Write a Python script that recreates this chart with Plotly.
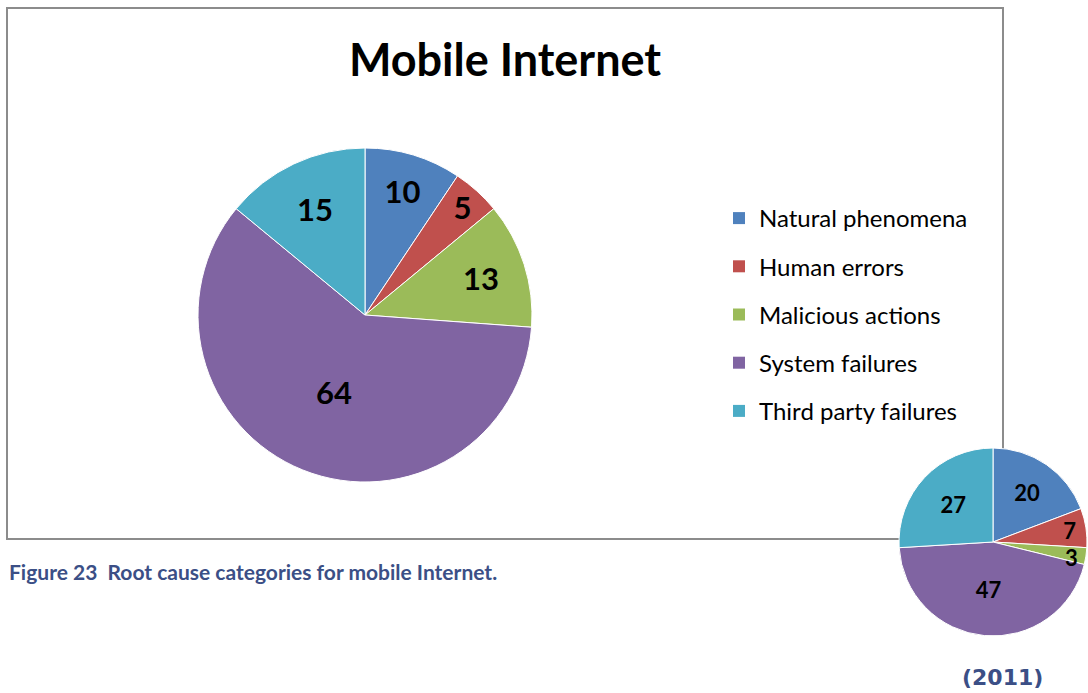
import math
import plotly.graph_objects as go

W, H = 1088, 693

# Root cause categories
categories = ["Natural phenomena", "Human errors", "Malicious actions",
              "System failures", "Third party failures"]
values_main = [10, 5, 13, 64, 15]     # mobile Internet
values_2011 = [20, 7, 3, 47, 27]      # 2011 inset
colors = ["#4F81BD", "#C0504D", "#9BBB59", "#8064A2", "#4BACC6"]

FONT = "Lato"
CAPTION_COLOR = "#3B4F86"


def px_x(x):
    return x / W


def px_y(y):
    return 1 - y / H


main_dom = dict(x=[px_x(198), px_x(532)], y=[px_y(482), px_y(148)])
inset_dom = dict(x=[px_x(899), px_x(1087)], y=[px_y(636), px_y(448)])

fig = go.Figure()

# main pie
fig.add_trace(go.Pie(
    labels=categories, values=values_main,
    marker=dict(colors=colors, line=dict(color="white", width=1)),
    sort=False, direction="clockwise", rotation=0,
    textinfo="value", textposition="inside", insidetextorientation="horizontal",
    textfont=dict(family=FONT, size=31, color="black", weight="bold"),
    domain=main_dom, showlegend=False, hoverinfo="label+value",
))

# 2011 inset pie; the thinnest slice gets its value as a separate label
# so it keeps the same font size as the others
inset_small = [v / sum(values_2011) < 0.05 for v in values_2011]
fig.add_trace(go.Pie(
    labels=categories, values=values_2011,
    marker=dict(colors=colors, line=dict(color="white", width=1)),
    sort=False, direction="clockwise", rotation=0,
    textinfo="value",
    textposition=["none" if s else "inside" for s in inset_small],
    insidetextorientation="horizontal",
    textfont=dict(family=FONT, size=22, color="black", weight="bold"),
    domain=inset_dom, showlegend=False, hoverinfo="label+value",
))

# label placement for thin inset slices: along the slice's mid-angle
cx = (inset_dom["x"][0] + inset_dom["x"][1]) / 2 * W
cy = (1 - (inset_dom["y"][0] + inset_dom["y"][1]) / 2) * H
r = min((inset_dom["x"][1] - inset_dom["x"][0]) * W,
        (inset_dom["y"][1] - inset_dom["y"][0]) * H) / 2
total = sum(values_2011)
slice_labels = []
acc = 0
for v, s in zip(values_2011, inset_small):
    mid = (acc + v / 2) / total * 2 * math.pi
    acc += v
    if s:
        lx = cx + 0.84 * r * math.sin(mid)
        ly = cy - 0.84 * r * math.cos(mid)
        slice_labels.append(dict(
            text=f"<b>{v}</b>", x=px_x(lx), y=px_y(ly), yshift=-4,
            xref="paper", yref="paper", xanchor="center", yanchor="middle",
            showarrow=False, borderpad=0,
            font=dict(family=FONT, size=22, color="black")))

# legend entries, one group each so the gap between rows can be set
for name, col in zip(categories, colors):
    fig.add_trace(go.Scatter(
        x=[None], y=[None], mode="markers", name=name,
        marker=dict(symbol="square", size=14, color=col),
        legendgroup=name, showlegend=True,
    ))

fig.update_layout(
    width=W, height=H,
    margin=dict(l=0, r=0, t=0, b=0),
    paper_bgcolor="white", plot_bgcolor="white",
    xaxis=dict(visible=False), yaxis=dict(visible=False),
    title=dict(text="<b>Mobile Internet</b>", x=px_x(505), y=px_y(60),
               xanchor="center", yanchor="middle",
               font=dict(family=FONT, size=45, color="black")),
    legend=dict(x=px_x(719), y=px_y(196), xanchor="left", yanchor="top",
                font=dict(family=FONT, size=24, color="black"),
                tracegroupgap=14, itemsizing="constant",
                bgcolor="rgba(0,0,0,0)"),
    shapes=[dict(type="rect", xref="paper", yref="paper",
                 x0=px_x(7), x1=px_x(1003), y0=px_y(539), y1=px_y(8),
                 line=dict(color="#8C8C8C", width=2), layer="below")],
    annotations=[
        dict(text="<b>Figure 23  Root cause categories for mobile Internet.</b>",
             x=px_x(7), y=px_y(571), xref="paper", yref="paper",
             xanchor="left", yanchor="middle", showarrow=False,
             font=dict(family=FONT, size=21, color=CAPTION_COLOR)),
        dict(text="<b>(2011)</b>",
             x=px_x(1002), y=px_y(677), xref="paper", yref="paper",
             xanchor="center", yanchor="middle", showarrow=False,
             font=dict(family="DejaVu Sans", size=22, color=CAPTION_COLOR)),
    ] + slice_labels,
)

fig.write_html("out.html")
